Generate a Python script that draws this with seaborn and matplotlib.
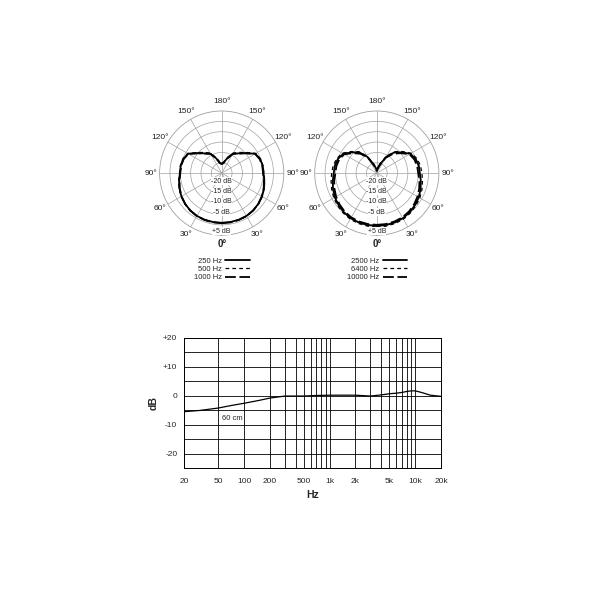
import numpy as np
import seaborn as sns
import matplotlib.pyplot as plt

sns.set_style("white")
plt.rcParams['font.family'] = ['Liberation Sans', 'DejaVu Sans']

# polar response, one half (0 = front); the pattern is symmetric
angles = [0, 10, 20, 30, 40, 50, 60, 70, 80, 90, 100, 110, 120, 130, 140, 150, 160, 170, 180]

db_250 = [-1.0, -1.0, -1.0, -1.1, -1.4, -1.9, -2.5, -3.3, -4.1, -4.8, -4.9, -5.2, -6.3, -10.0, -12.6, -14.2, -17.5, -20.0, -20.5]
db_500 = [-0.9, -0.9, -0.9, -1.0, -1.3, -1.8, -2.4, -3.1, -3.9, -4.6, -4.7, -5.0, -6.0, -9.5, -12.0, -13.8, -17.0, -19.6, -20.2]
db_1000 = [-0.8, -0.8, -0.9, -1.0, -1.4, -1.9, -2.6, -3.4, -4.3, -5.0, -5.1, -5.4, -6.4, -10.1, -12.7, -14.3, -17.6, -20.1, -20.6]

db_2500 = [0.5, 0.5, 0.4, 0.2, -0.3, -0.9, -1.6, -2.5, -3.4, -4.2, -4.4, -5.0, -6.3, -9.4, -12.0, -16.0, -20.5, -22.6, -23.7]
db_6400 = [1.0, 1.0, 0.9, 0.7, 0.2, -0.4, -1.0, -1.8, -2.6, -3.2, -3.6, -4.4, -5.8, -8.8, -11.5, -15.5, -20.0, -22.3, -23.5]
db_10000 = [0.0, 0.0, -0.1, -0.3, -0.8, -1.5, -2.3, -3.2, -4.1, -5.0, -5.2, -5.7, -6.8, -10.0, -12.8, -16.5, -21.0, -23.0, -24.0]

theta_labels = ['0°', '30°', '60°', '90°', '120°', '150°', '180°',
                '150°', '120°', '90°', '60°', '30°']
ring_labels = ['-20 dB', '-15 dB', '-10 dB', '-5 dB', '+5 dB']
ring_values = [-20, -15, -10, -5, 5]

# frequency response
freqs = [20, 30, 50, 70, 100, 150, 200, 300, 500, 700, 1000, 2000, 3000, 4000,
         5000, 6000, 7000, 8000, 9000, 10000, 12000, 15000, 20000]
resp = [-5.5, -5.1, -4.25, -3.4, -2.6, -1.6, -0.8, -0.1, -0.1, 0.1, 0.2, 0.2, -0.1,
        0.3, 0.7, 0.9, 1.15, 1.5, 1.7, 1.7, 1.1, 0.2, -0.2]
x_major = [20, 50, 100, 200, 500, 1000, 2000, 5000, 10000, 20000]
x_labels = ['20', '50', '100', '200', '500', '1k', '2k', '5k', '10k', '20k']
x_minor = [300, 400, 600, 700, 800, 900, 3000, 4000, 6000, 7000, 8000, 9000]
y_major = [-20, -10, 0, 10, 20]
y_labels = ['-20', '-10', '0', '+10', '+20']
y_minor = [-25, -15, -5, 5, 15]


def full_circle(vals):
    th = angles + [360 - a for a in reversed(angles[:-1])]
    v = vals + list(reversed(vals[:-1]))
    return np.deg2rad(th), np.array(v)


def setup_polar(ax):
    ax.set_theta_zero_location('S')
    ax.set_ylim(-25, 5)
    ax.set_xticks(np.deg2rad(np.arange(0, 360, 30)))
    ax.set_xticklabels(theta_labels, fontsize=6)
    ax.get_xticklabels()[0].set_fontweight('bold')
    ax.get_xticklabels()[0].set_fontsize(7)
    ax.tick_params(axis='x', pad=-4, colors='#222222')
    ax.set_yticks([-20, -15, -10, -5, 0])
    ax.set_yticklabels([])
    ax.grid(True, color='#a0a0a0', lw=0.5)
    ax.spines['polar'].set_color('#a0a0a0')
    ax.spines['polar'].set_linewidth(0.6)
    for lab, r in zip(ring_labels, ring_values):
        off = 2.0 if r > 0 else 1.1
        ax.text(0, r - off, lab, fontsize=5, ha='center', va='center', color='#222222',
                bbox=dict(facecolor='white', edgecolor='none', pad=0.2))


fig = plt.figure(figsize=(6, 6), dpi=100)

ax1 = fig.add_axes([0.266, 0.608, 0.207, 0.207], projection='polar')
ax2 = fig.add_axes([0.5245, 0.608, 0.207, 0.207], projection='polar')

styles = [('-', 1.3), ((0, (3, 2.5)), 0.9), ((0, (6, 2)), 1.3)]
for ax, series in [(ax1, [('250 Hz', db_250), ('500 Hz', db_500), ('1000 Hz', db_1000)]),
                   (ax2, [('2500 Hz', db_2500), ('6400 Hz', db_6400), ('10000 Hz', db_10000)])]:
    setup_polar(ax)
    for (lab, vals), (ls, lw) in zip(series, styles):
        th, r = full_circle(vals)
        sns.lineplot(x=th, y=r, ax=ax, color='black', lw=lw, linestyle=ls,
                     sort=False, label=lab)
    ax.set_xlabel('')
    ax.set_ylabel('')
    ax.legend(loc='upper center', bbox_to_anchor=(0.5, -0.15), frameon=False,
              markerfirst=False, fontsize=5.5, handlelength=3.2, labelspacing=0.1,
              handletextpad=0.5, borderpad=0)

# frequency response plot
ax3 = fig.add_axes([0.307, 0.22, 0.428, 0.2167])
sns.lineplot(x=freqs, y=resp, ax=ax3, color='black', lw=0.9)
ax3.set_xscale('log')
ax3.set_xlim(20, 20000)
ax3.set_ylim(-25, 20)
ax3.set_xticks(x_major)
ax3.set_xticklabels(x_labels, fontsize=6)
ax3.set_xticks(x_minor, minor=True)
ax3.set_yticks(y_major)
ax3.set_yticklabels(y_labels, fontsize=6)
ax3.set_yticks(y_minor, minor=True)
ax3.tick_params(which='both', length=0)
ax3.tick_params(axis='x', pad=7)
ax3.tick_params(axis='y', pad=5)
ax3.grid(True, which='both', color='black', lw=0.6)
for s in ax3.spines.values():
    s.set_color('black')
    s.set_linewidth(0.7)
ax3.set_xlabel('Hz', fontsize=7.5, fontweight='bold', labelpad=4)
ax3.set_ylabel('dB', fontsize=7.5, fontweight='bold', labelpad=3)
ax3.text(73, -8, '60 cm', fontsize=5.5, ha='center', va='center')

fig.savefig('out.png', dpi=100)
